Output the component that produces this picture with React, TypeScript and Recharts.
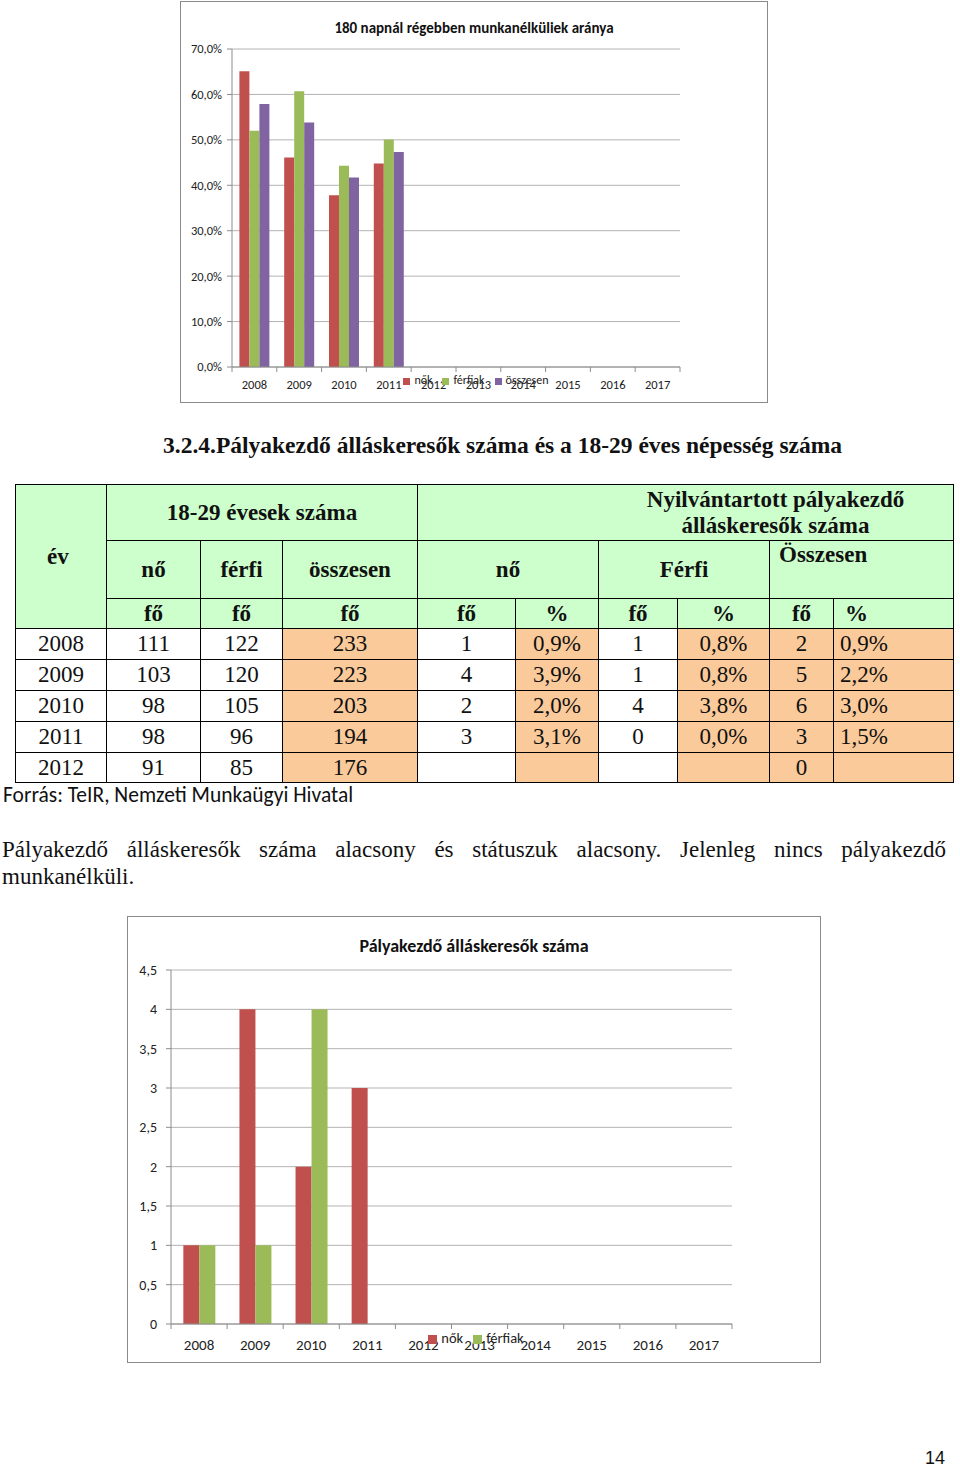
import {BarChart, Bar, XAxis, YAxis, CartesianGrid, Legend} from 'recharts';

// chart categories
const YEARS = ['2008', '2009', '2010', '2011', '2012', '2013', '2014', '2015', '2016', '2017'];

// 180 napnál régebben munkanélküliek aránya (%)
const LONG_NOK = [65.1, 46.1, 37.8, 44.8];
const LONG_FERFIAK = [52.0, 60.7, 44.3, 50.1];
const LONG_OSSZESEN = [57.9, 53.8, 41.7, 47.3];
const PCT_TICKS = [0, 10, 20, 30, 40, 50, 60, 70];

// table: 18-29 évesek száma
const TABLE_YEARS = ['2008', '2009', '2010', '2011', '2012'];
const AGE_NO = [111, 103, 98, 98, 91];
const AGE_FERFI = [122, 120, 105, 96, 85];
const AGE_OSSZ = [233, 223, 203, 194, 176];

// table: nyilvántartott pályakezdő álláskeresők
const START_NO = [1, 4, 2, 3, null];
const START_NO_PCT = ['0,9%', '3,9%', '2,0%', '3,1%', ''];
const START_FERFI = [1, 1, 4, 0, null];
const START_FERFI_PCT = ['0,8%', '0,8%', '3,8%', '0,0%', ''];
const START_OSSZ = [2, 5, 6, 3, 0];
const START_OSSZ_PCT = ['0,9%', '2,2%', '3,0%', '1,5%', ''];

const COUNT_TICKS = [0, 0.5, 1, 1.5, 2, 2.5, 3, 3.5, 4, 4.5];

const RED = '#C0504D';
const GREEN = '#9BBB59';
const PURPLE = '#8064A2';
const GRID = '#B3B3B3';
const AXIS = '#8C8C8C';
const SANS = "Carlito, 'Open Sans', sans-serif";
const SERIF = "'Liberation Serif', 'DejaVu Serif', serif";
const HEAD_BG = '#CCFFCC';
const ORANGE = '#FBCA9A';

const SERIES_ORDER = ['nok', 'ferfiak', 'osszesen'];

const longData = YEARS.map((year, i) => ({
    year,
    nok: LONG_NOK[i] ?? null,
    ferfiak: LONG_FERFIAK[i] ?? null,
    osszesen: LONG_OSSZESEN[i] ?? null,
}));

const startData = YEARS.map((year, i) => ({
    year,
    nok: START_NO[i] ?? null,
    ferfiak: START_FERFI[i] ?? null,
}));

const comma = (v: number, digits: number) => v.toFixed(digits).replace('.', ',');

// Excel-style category tick: marks sit on the band edges, label in the middle
function BandTick(props: any) {
    const {x, y, payload, index, half, count, fontSize, dy} = props;
    return (
        <g>
            <line x1={x - half} x2={x - half} y1={y} y2={y + 5} stroke={AXIS} />
            {index === count - 1 && <line x1={x + half} x2={x + half} y1={y} y2={y + 5} stroke={AXIS} />}
            <text x={x} y={y + dy} textAnchor="middle" fontSize={fontSize} fill="#222" fontFamily={SANS}>
                {payload.value}
            </text>
        </g>
    );
}

const legendText = (value: string) => <span style={{color: '#222'}}>{value}</span>;
const legendOrder = (item: any) => SERIES_ORDER.indexOf(String(item.dataKey));

function LongChart() {
    const plotW = 448;
    return (
        <div style={{position: 'absolute', left: 180, top: 1, width: 586, height: 400, border: '1px solid #8A8A8A', background: '#fff'}}>
            <div style={{position: 'absolute', top: 17, left: 0, width: 586, textAlign: 'center', fontFamily: SANS, fontWeight: 'bold', fontSize: 15, lineHeight: '18px', color: '#111'}}>
                180 napnál régebben munkanélküliek aránya
            </div>
            <BarChart width={586} height={400} data={longData} margin={{top: 47, right: 87, left: 6, bottom: 5}}
                      barCategoryGap="16.5%" barGap={0} style={{fontFamily: SANS}}>
                <CartesianGrid vertical={false} stroke={GRID} />
                <XAxis dataKey="year" height={30} axisLine={{stroke: AXIS}} tickLine={false} tickSize={0} tickMargin={0}
                       interval={0} tick={<BandTick half={plotW / YEARS.length / 2} count={YEARS.length} fontSize={12.5} dy={22} />} />
                <YAxis width={45} domain={[0, 70]} ticks={PCT_TICKS} tickFormatter={(v) => `${comma(v, 1)}%`}
                       axisLine={{stroke: AXIS}} tickLine={{stroke: AXIS}} tickSize={5} tickMargin={5}
                       tick={{fontSize: 12.5, fill: '#222'}} interval={0} />
                <Legend verticalAlign="middle" align="center" layout="horizontal" iconType="square" iconSize={7}
                        formatter={legendText} itemSorter={legendOrder}
                        wrapperStyle={{top: 371, left: 200, width: 200, fontSize: 12, lineHeight: '14px'}} />
                <Bar dataKey="nok" name="nők" fill={RED} isAnimationActive={false} />
                <Bar dataKey="ferfiak" name="férfiak" fill={GREEN} isAnimationActive={false} />
                <Bar dataKey="osszesen" name="összesen" fill={PURPLE} isAnimationActive={false} />
            </BarChart>
        </div>
    );
}

function StartChart() {
    const plotW = 561;
    return (
        <div style={{position: 'absolute', left: 127, top: 916, width: 692, height: 445, border: '1px solid #8A8A8A', background: '#fff'}}>
            <div style={{position: 'absolute', top: 18, left: 0, width: 692, textAlign: 'center', fontFamily: SANS, fontWeight: 'bold', fontSize: 18, lineHeight: '22px', color: '#111'}}>
                Pályakezdő álláskeresők száma
            </div>
            <BarChart width={692} height={445} data={startData} margin={{top: 53, right: 88, left: 11, bottom: 8}}
                      barCategoryGap="22%" barGap={0} style={{fontFamily: SANS}}>
                <CartesianGrid vertical={false} stroke={GRID} />
                <XAxis dataKey="year" height={30} axisLine={{stroke: AXIS}} tickLine={false} tickSize={0} tickMargin={0}
                       interval={0} tick={<BandTick half={plotW / YEARS.length / 2} count={YEARS.length} fontSize={15} dy={26} />} />
                <YAxis width={32} domain={[0, 4.5]} ticks={COUNT_TICKS} tickFormatter={(v) => String(v).replace('.', ',')}
                       axisLine={{stroke: AXIS}} tickLine={{stroke: AXIS}} tickSize={5} tickMargin={9}
                       tick={{fontSize: 14, fill: '#222'}} interval={0} />
                <Legend verticalAlign="middle" align="center" layout="horizontal" iconType="square" iconSize={9}
                        formatter={legendText} itemSorter={legendOrder}
                        wrapperStyle={{top: 413, left: 253, width: 200, fontSize: 14.5, lineHeight: '17px'}} />
                <Bar dataKey="nok" name="nők" fill={RED} isAnimationActive={false} />
                <Bar dataKey="ferfiak" name="férfiak" fill={GREEN} isAnimationActive={false} />
            </BarChart>
        </div>
    );
}

const COL_WIDTHS = [91, 94, 82, 135, 98, 83, 79, 92, 64, 120];

function DataTable() {
    const cell = (bg: string, extra: any = {}) => ({
        border: '1px solid #000', background: bg, padding: 0, textAlign: 'center' as const, ...extra,
    });
    const head = (extra: any = {}) => cell(HEAD_BG, {fontWeight: 'bold', ...extra});
    return (
        <table style={{position: 'absolute', left: 15, top: 484, width: 938, tableLayout: 'fixed', borderCollapse: 'collapse',
            fontFamily: SERIF, fontSize: 23, lineHeight: '26px', color: '#111'}}>
            <colgroup>
                {COL_WIDTHS.map((w, i) => <col key={i} style={{width: w}} />)}
            </colgroup>
            <tbody>
                <tr style={{height: 56}}>
                    <td rowSpan={3} style={head({verticalAlign: 'middle', textAlign: 'left', paddingLeft: 31})}>év</td>
                    <td colSpan={3} style={head()}>18-29 évesek száma</td>
                    <td colSpan={6} style={head({paddingLeft: 180})}>
                        Nyilvántartott pályakezdő<br />álláskeresők száma
                    </td>
                </tr>
                <tr style={{height: 58}}>
                    <td style={head()}>nő</td>
                    <td style={head()}>férfi</td>
                    <td style={head()}>összesen</td>
                    <td colSpan={2} style={head()}>nő</td>
                    <td colSpan={2} style={head()}>Férfi</td>
                    <td colSpan={2} style={head({verticalAlign: 'top', textAlign: 'left', paddingLeft: 9, paddingTop: 1})}>Összesen</td>
                </tr>
                <tr style={{height: 30}}>
                    <td style={head()}>fő</td>
                    <td style={head()}>fő</td>
                    <td style={head()}>fő</td>
                    <td style={head()}>fő</td>
                    <td style={head()}>%</td>
                    <td style={head()}>fő</td>
                    <td style={head()}>%</td>
                    <td style={head()}>fő</td>
                    <td style={head({textAlign: 'left', paddingLeft: 11})}>%</td>
                </tr>
                {TABLE_YEARS.map((year, i) => (
                    <tr key={year} style={{height: i === 4 ? 30 : 31}}>
                        <td style={cell('#fff')}>{year}</td>
                        <td style={cell('#fff')}>{AGE_NO[i]}</td>
                        <td style={cell('#fff')}>{AGE_FERFI[i]}</td>
                        <td style={cell(ORANGE)}>{AGE_OSSZ[i]}</td>
                        <td style={cell('#fff')}>{START_NO[i] ?? ''}</td>
                        <td style={cell(ORANGE)}>{START_NO_PCT[i]}</td>
                        <td style={cell('#fff')}>{START_FERFI[i] ?? ''}</td>
                        <td style={cell(ORANGE)}>{START_FERFI_PCT[i]}</td>
                        <td style={cell(ORANGE)}>{START_OSSZ[i]}</td>
                        <td style={cell(ORANGE, {textAlign: 'left', paddingLeft: 6})}>{START_OSSZ_PCT[i]}</td>
                    </tr>
                ))}
            </tbody>
        </table>
    );
}

export default function App() {
    return (
        <div style={{position: 'absolute', left: 0, top: 0, width: 960, height: 1468, background: '#fff', overflow: 'hidden'}}>
            <LongChart />
            <div style={{position: 'absolute', left: 163, top: 432, fontFamily: SERIF, fontWeight: 'bold', fontSize: 23.5, lineHeight: '26px', color: '#111', whiteSpace: 'nowrap'}}>
                3.2.4.Pályakezdő álláskeresők száma és a 18-29 éves népesség száma
            </div>
            <DataTable />
            <div style={{position: 'absolute', left: 3, top: 784, fontFamily: SANS, fontSize: 21.5, lineHeight: '22px', color: '#111'}}>
                Forrás: TeIR, Nemzeti Munkaügyi Hivatal
            </div>
            <div style={{position: 'absolute', left: 2, top: 836, width: 944, fontFamily: SERIF, fontSize: 23, lineHeight: '27px', textAlign: 'justify', color: '#111'}}>
                Pályakezdő álláskeresők száma alacsony és státuszuk alacsony. Jelenleg nincs pályakezdő munkanélküli.
            </div>
            <StartChart />
            <div style={{position: 'absolute', left: 925, top: 1449, fontFamily: "'Liberation Sans', Arial, sans-serif", fontSize: 18, lineHeight: '18px', color: '#111'}}>
                14
            </div>
        </div>
    );
}
